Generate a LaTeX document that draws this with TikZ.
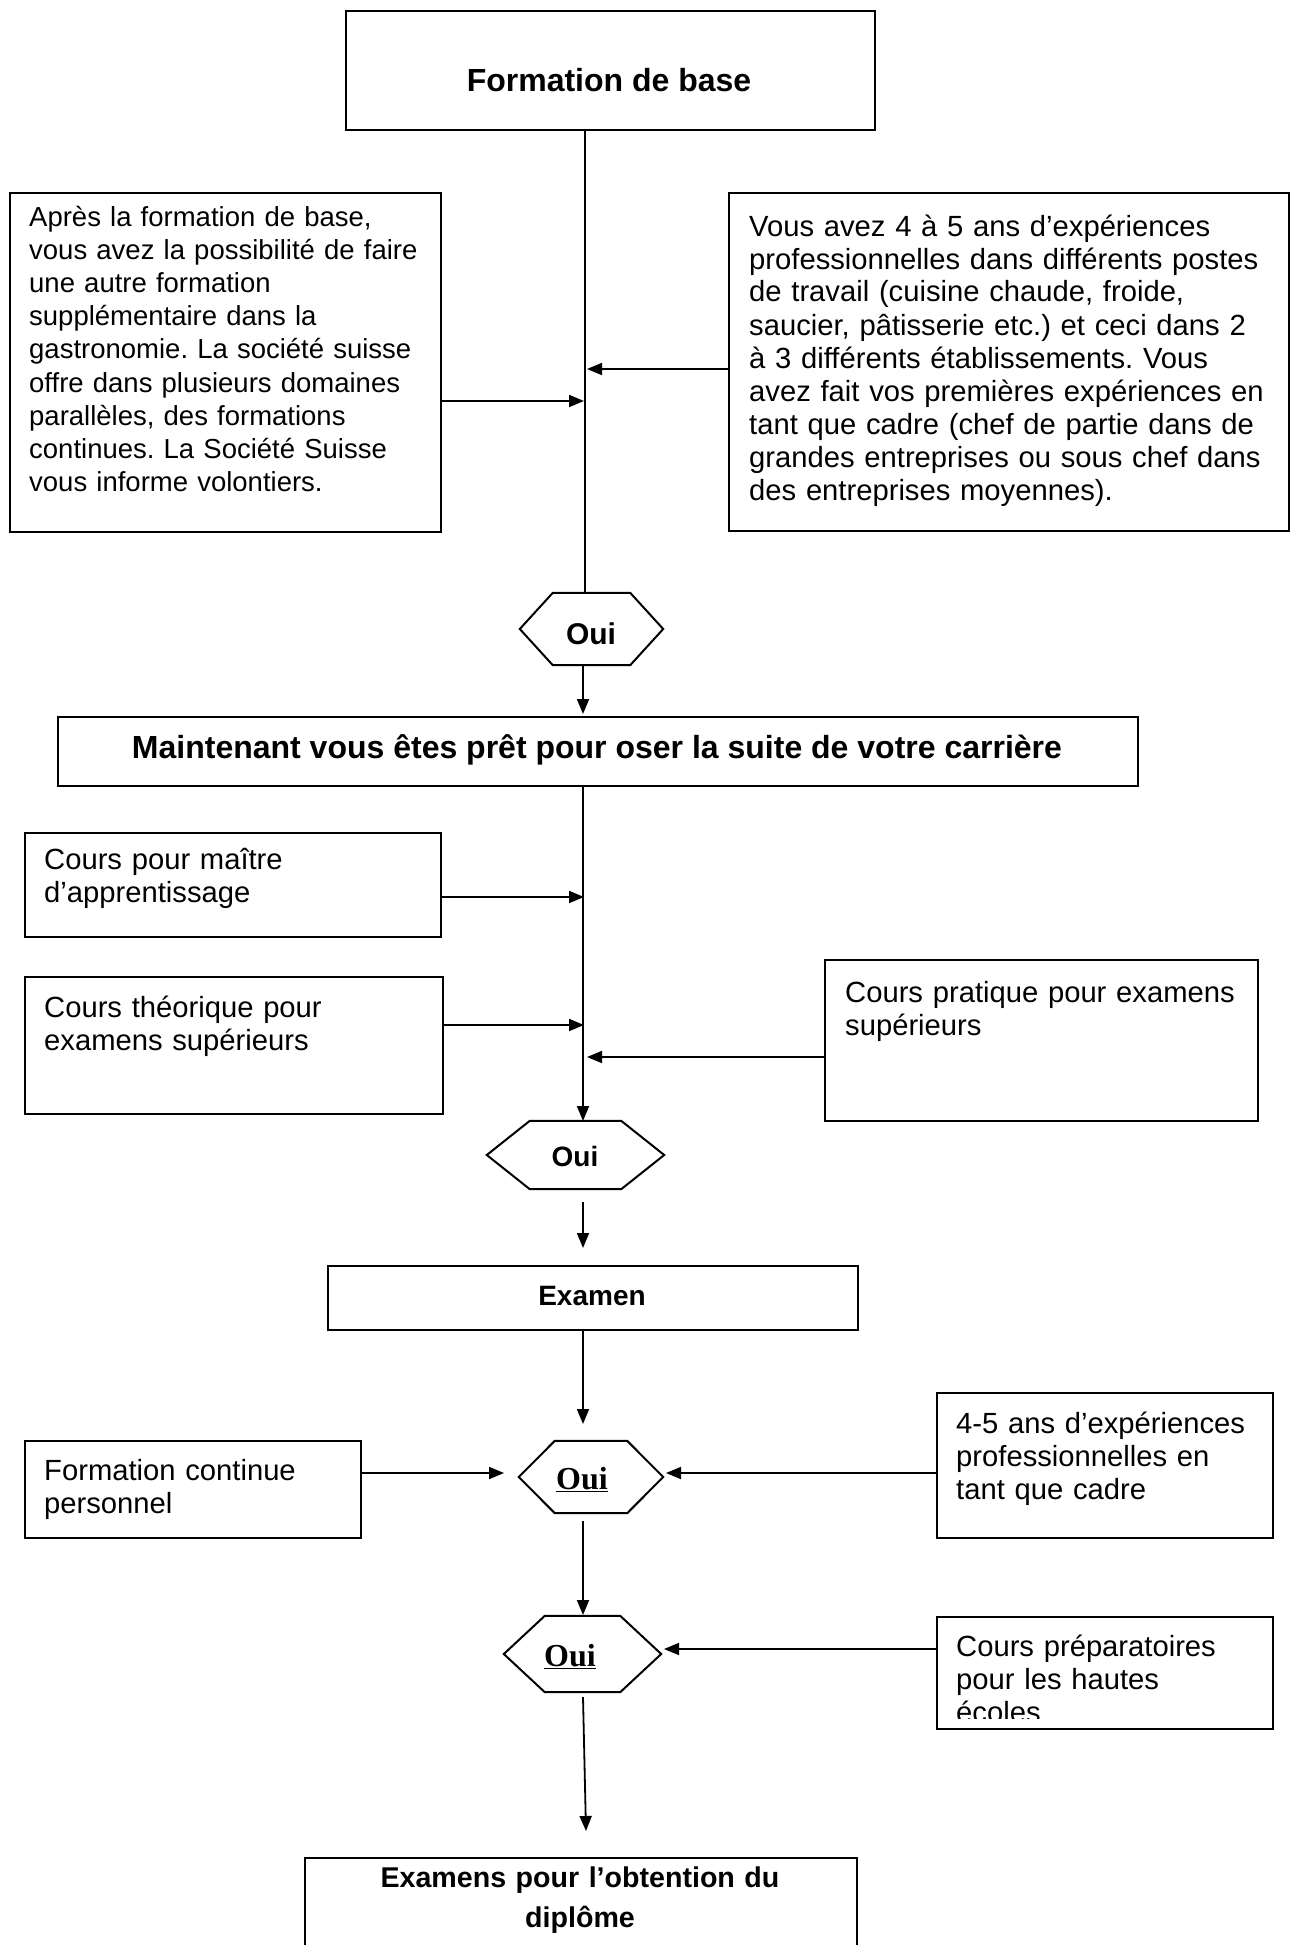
\documentclass[tikz,border=0pt]{standalone}
\usepackage{fontspec}
\setmainfont{Liberation Sans}
\newfontfamily\tnr{Liberation Serif}
\usetikzlibrary{arrows.meta,calc}
\frenchspacing
\newcommand\hexoutline[2]{\draw[hexline] (#1.west) -- ([xshift=#2]#1.north west) -- ([xshift=-#2]#1.north east) -- (#1.east) -- ([xshift=-#2]#1.south east) -- ([xshift=#2]#1.south west) -- cycle;}
\begin{document}
\begin{tikzpicture}[x=1pt,y=-1pt,
  box/.style={draw, line width=2pt, anchor=north west, inner sep=0pt},
  hexbox/.style={inner sep=0pt},
  hexline/.style={line width=2pt, line join=miter},
  body/.style={anchor=base west, inner sep=0pt, align=left, text width=600pt, font=\frenchspacing\fontsize{29.2}{33}\selectfont},
  bodysm/.style={body, font=\frenchspacing\fontsize{27.5}{33.2}\selectfont},
  head/.style={anchor=base, inner sep=0pt, font=\bfseries\fontsize{32}{37}\selectfont},
  headsm/.style={anchor=base, inner sep=0pt, font=\bfseries\fontsize{28}{31}\selectfont},
  ouiser/.style={anchor=base, inner sep=0pt, font=\tnr\bfseries\fontsize{32}{36}\selectfont},
  conn/.style={line width=1.8pt},
  arr/.style={line width=1.8pt, -{Triangle[length=15pt,width=12pt]}},
]
\fill[white] (0,0) rectangle (1290,1945);
\useasboundingbox (0,0) rectangle (1290,1945);

% spine reference coordinates
\coordinate (sp) at (585,0);
\coordinate (sq) at (583,0);

% top
\node[box, minimum width=529pt, minimum height=119pt] (top) at (345,10) {};
\node[head] (ttop) at (609,92) {Formation de base};

\node[box, minimum width=431pt, minimum height=339pt] (bL1) at (9,192) {};
\node[bodysm] (tL1) at (29,226) {Après la formation de base,\\
vous avez la possibilité de faire\\
une autre formation\\
supplémentaire dans la\\
gastronomie. La société suisse\\
offre dans plusieurs domaines\\
parallèles, des formations\\
continues. La Société Suisse\\
vous informe volontiers.};

\node[box, minimum width=560pt, minimum height=338pt] (bR1) at (728,192) {};
\node[body] (tR1) at (749,236) {Vous avez 4 à 5 ans d’expériences\\
professionnelles dans différents postes\\
de travail (cuisine chaude, froide,\\
saucier, pâtisserie etc.) et ceci dans 2\\
à 3 différents établissements. Vous\\
avez fait vos premières expériences en\\
tant que cadre (chef de partie dans de\\
grandes entreprises ou sous chef dans\\
des entreprises moyennes).};

% hexagon 1
\node[hexbox, minimum width=143pt, minimum height=72pt] (h1) at (591.5,629) {};
\hexoutline{h1}{33}
\node[head, font=\bfseries\fontsize{30}{34}\selectfont] (o1) at (591,644) {Oui};

\node[box, minimum width=1080pt, minimum height=69pt] (main) at (57,716) {};
\node[head] (tmain) at (597,758) {Maintenant vous êtes prêt pour oser la suite de votre carrière};

\node[box, minimum width=416pt, minimum height=104pt] (bL2) at (24,832) {};
\node[body] (tL2) at (44,869) {Cours pour maître\\ d’apprentissage};

\node[box, minimum width=418pt, minimum height=137pt] (bL3) at (24,976) {};
\node[body] (tL3) at (44,1017) {Cours théorique pour\\ examens supérieurs};

\node[box, minimum width=433pt, minimum height=161pt] (bR2) at (824,959) {};
\node[body] (tR2) at (845,1002) {Cours pratique pour examens\\ supérieurs};

% hexagon 2
\node[hexbox, minimum width=177pt, minimum height=68pt] (h2) at (575.5,1155) {};
\hexoutline{h2}{43}
\node[headsm] (o2) at (575,1166) {Oui};

\node[box, minimum width=530pt, minimum height=64pt] (exam) at (327,1265) {};
\node[headsm] (texam) at (592,1305) {Examen};

% hexagon 3
\node[hexbox, minimum width=144pt, minimum height=72pt] (h3) at (591,1477) {};
\hexoutline{h3}{36}
\node[ouiser] (o3) at (582,1489) {\underline{Oui}};

\node[box, minimum width=336pt, minimum height=97pt] (bL4) at (24,1440) {};
\node[body] (tL4) at (44,1480) {Formation continue\\ personnel};

\node[box, minimum width=336pt, minimum height=145pt] (bR3) at (936,1392) {};
\node[body] (tR3) at (956,1433) {4-5 ans d’expériences\\ professionnelles en\\ tant que cadre};

% hexagon 4
\node[hexbox, minimum width=157pt, minimum height=76pt] (h4) at (582.5,1654) {};
\hexoutline{h4}{41}
\node[ouiser] (o4) at (570,1666) {\underline{Oui}};

\node[box, minimum width=336pt, minimum height=112pt] (bR4) at (936,1616) {};
\begin{scope}
\clip (936,1616) rectangle (1272,1718);
\node[body] (tR4) at (956,1656) {Cours préparatoires\\ pour les hautes\\ écoles};
\end{scope}

\node[box, minimum width=552pt, minimum height=130pt] (final) at (304,1857) {};
\node[headsm, align=center, text width=552pt, font=\bfseries\fontsize{28.6}{40}\selectfont] (tfinal) at (580,1887) {Examens pour l’obtention du\\ diplôme};

% connectors
\draw[conn] (top.south -| sp) -- (h1.north -| sp);
\coordinate (aR1) at (587,369);
\draw[arr] (bR1.west |- aR1) -- (aR1);
\coordinate (aL1) at (584,401);
\draw[arr] (bL1.east |- aL1) -- (aL1);
\coordinate (t1) at (583,714);
\draw[arr] (h1.south -| sq) -- (t1);
\coordinate (t2) at (583,1121);
\draw[arr] (main.south -| sq) -- (t2);
\coordinate (aL2) at (584,897);
\draw[arr] (bL2.east |- aL2) -- (aL2);
\coordinate (aL3) at (584,1025);
\draw[arr] (bL3.east |- aL3) -- (aL3);
\coordinate (aR2) at (587,1057);
\draw[arr] (bR2.west |- aR2) -- (aR2);
\coordinate (s3) at (583,1202);
\coordinate (t3) at (583,1248);
\draw[arr] (s3) -- (t3);
\coordinate (t4) at (583,1424);
\draw[arr] (exam.south -| sq) -- (t4);
\coordinate (aL4) at (504,1473);
\draw[arr] (bL4.east |- aL4) -- (aL4);
\coordinate (aR3) at (666,1473);
\draw[arr] (bR3.west |- aR3) -- (aR3);
\coordinate (s5) at (583,1521);
\coordinate (t5) at (583,1615);
\draw[arr] (s5) -- (t5);
\coordinate (aR4) at (664,1649);
\draw[arr] (bR4.west |- aR4) -- (aR4);
\coordinate (s6) at (583,1697);
\coordinate (t6) at (586,1831);
\draw[arr] (s6) -- (t6);
\end{tikzpicture}
\end{document}
